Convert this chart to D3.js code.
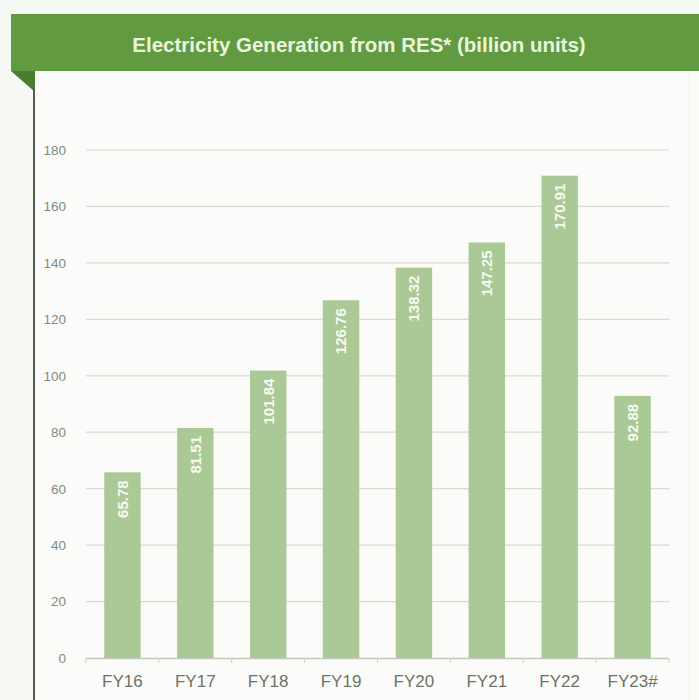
<!DOCTYPE html>
<html>
<head>
<meta charset="utf-8">
<script src="https://cdn.jsdelivr.net/npm/d3@7"></script>
<style>
  html, body { margin: 0; padding: 0; background: #f6f8f3; }
  svg { display: block; }
</style>
</head>
<body>
<svg id="chart" width="699" height="700"></svg>
<script>
const title = "Electricity Generation from RES* (billion units)";
const categories = ["FY16", "FY17", "FY18", "FY19", "FY20", "FY21", "FY22", "FY23#"];
const values = [65.78, 81.51, 101.84, 126.76, 138.32, 147.25, 170.91, 92.88];
const valueLabels = ["65.78", "81.51", "101.84", "126.76", "138.32", "147.25", "170.91", "92.88"];
const yTicks = [0, 20, 40, 60, 80, 100, 120, 140, 160, 180];

const svg = d3.select("#chart");
const W = 699, H = 700;

// panel background
svg.append("rect").attr("x", 35).attr("y", 71).attr("width", W - 35).attr("height", H - 71)
  .attr("fill", "#fbfcf9");

// banner
svg.append("rect").attr("x", 11).attr("y", 14).attr("width", W - 11).attr("height", 57)
  .attr("fill", "#619a40");
// fold triangle
svg.append("path").attr("d", "M11,71 L35,71 L35,92 Z").attr("fill", "#4b7d2f");
// left vertical line
svg.append("line").attr("x1", 34).attr("x2", 34).attr("y1", 88).attr("y2", H)
  .attr("stroke", "#555b50").attr("stroke-width", 2);
// faint right border
svg.append("line").attr("x1", 689).attr("x2", 689).attr("y1", 72).attr("y2", H)
  .attr("stroke", "#eef1ea").attr("stroke-width", 1);

svg.append("text").attr("x", 359).attr("y", 52).attr("text-anchor", "middle")
  .attr("font-family", "Liberation Sans, Arial, sans-serif").attr("font-weight", "bold")
  .attr("font-size", 20.5).attr("fill", "#e9f6de").text(title);

const x = d3.scaleBand().domain(categories).range([86, 669]).paddingInner(0.5).paddingOuter(0.25);
const y = d3.scaleLinear().domain([0, 180]).range([658, 150]);

// gridlines
svg.append("g").selectAll("line").data(yTicks.filter(d => d > 0)).join("line")
  .attr("x1", 86).attr("x2", 669)
  .attr("y1", d => y(d)).attr("y2", d => y(d))
  .attr("stroke", "#d8dad5").attr("stroke-width", 1.2);

// y tick labels
svg.append("g").selectAll("text").data(yTicks).join("text")
  .attr("x", 66).attr("y", d => y(d)).attr("dy", "0.36em")
  .attr("text-anchor", "end")
  .attr("font-family", "Liberation Sans, Arial, sans-serif").attr("font-size", 13.5)
  .attr("fill", "#858a7f").text(d => d);

// bars
svg.append("g").selectAll("rect").data(values).join("rect")
  .attr("x", (d, i) => x(categories[i]))
  .attr("width", x.bandwidth())
  .attr("y", d => y(d))
  .attr("height", d => y(0) - y(d))
  .attr("fill", "#abc996");

// bar value labels
svg.append("g").selectAll("text").data(values).join("text")
  .attr("transform", (d, i) => `translate(${x(categories[i]) + x.bandwidth() / 2},${y(d) + 8}) rotate(-90)`)
  .attr("text-anchor", "end").attr("dy", "0.36em")
  .attr("font-family", "Liberation Sans, Arial, sans-serif").attr("font-weight", "bold")
  .attr("font-size", 15).attr("fill", "#f7fbf2")
  .text((d, i) => valueLabels[i]);

// x axis
const xAxis = svg.append("g").attr("transform", `translate(0,${y(0)})`);
xAxis.append("line").attr("x1", 86).attr("x2", 669).attr("y1", 0.5).attr("y2", 0.5)
  .attr("stroke", "#c3c7bf").attr("stroke-width", 1.5);
const gap = (x.step() - x.bandwidth()) / 2;
const boundaries = categories.map(c => x(c) - gap);
boundaries.push(x(categories[categories.length - 1]) + x.bandwidth() + gap);
xAxis.selectAll("line.tick").data(boundaries).join("line").attr("class", "tick")
  .attr("x1", d => d).attr("x2", d => d).attr("y1", 0).attr("y2", 5)
  .attr("stroke", "#cdd0c9").attr("stroke-width", 1);
xAxis.selectAll("text").data(categories).join("text")
  .attr("x", d => x(d) + x.bandwidth() / 2).attr("y", 29)
  .attr("text-anchor", "middle")
  .attr("font-family", "Liberation Sans, Arial, sans-serif").attr("font-size", 17)
  .attr("fill", "#6d7368").text(d => d);
</script>
</body>
</html>
